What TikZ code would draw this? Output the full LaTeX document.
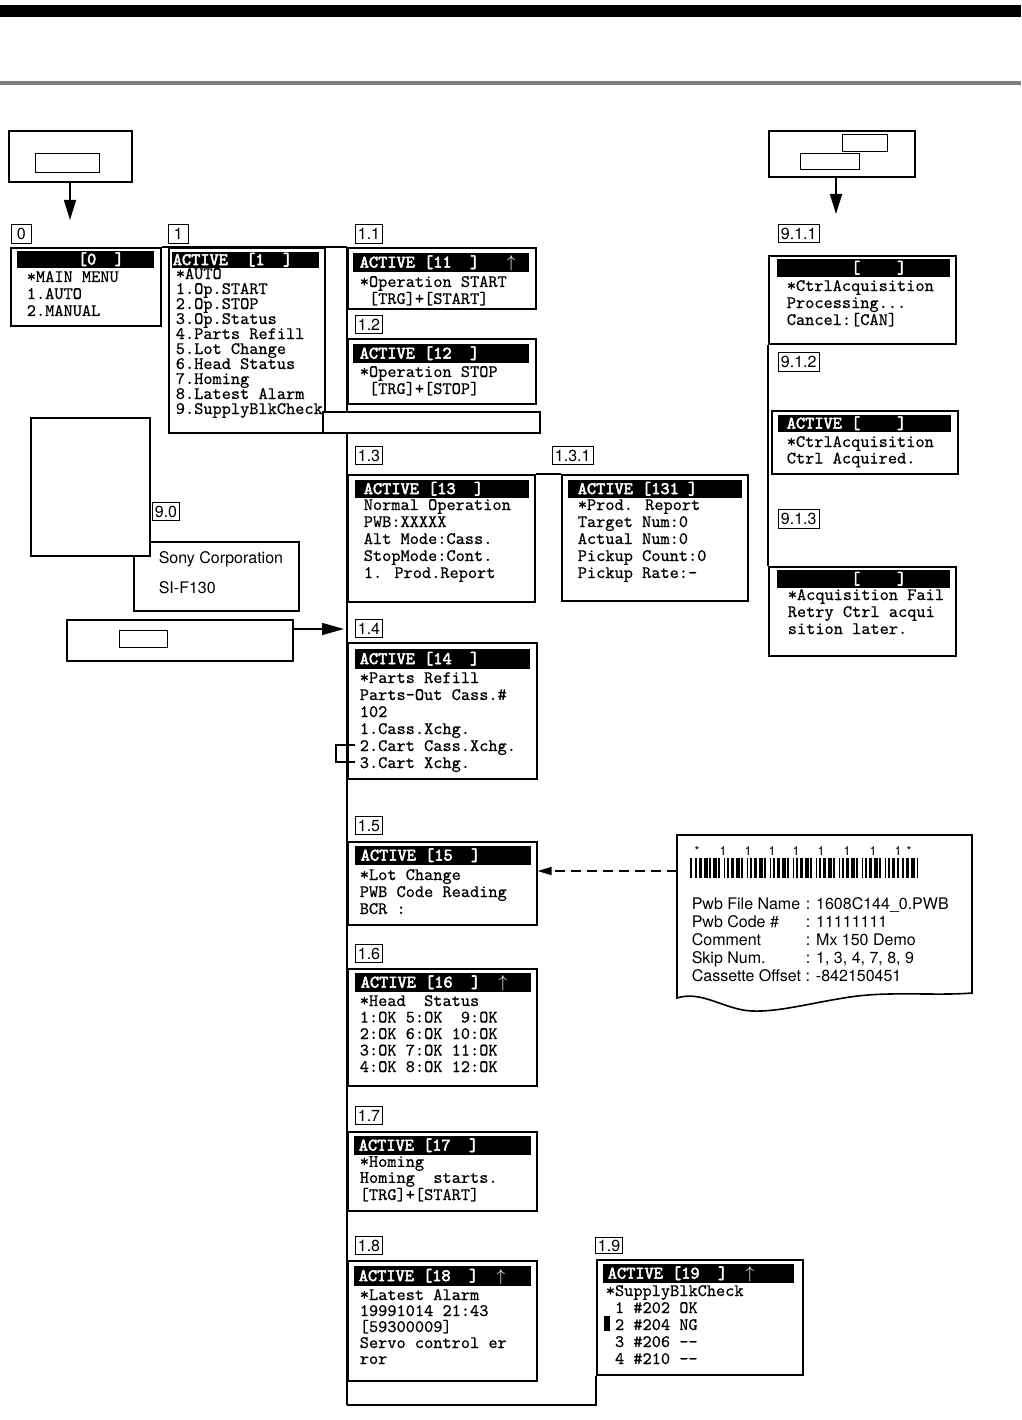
\documentclass[tikz,border=0pt]{standalone}
\usepackage{fontspec}
\setsansfont{TeX Gyre Heros}
\newfontfamily\lcdface{lmmono10-regular.otf}[FakeBold=0.5]
\newfontfamily\lcdbface{lmmono10-regular.otf}[FakeBold=3]
\usetikzlibrary{arrows.meta}
\newcommand{\lcd}[1]{\fontsize{17.5}{#1}\selectfont\lcdface}
\newcommand{\lcdb}{\fontsize{17.5}{18}\selectfont\lcdbface}
\newcommand{\tagf}{\fontsize{16}{18}\selectfont\sffamily}

\begin{document}
\begin{tikzpicture}[x=1pt, y=-1pt, line width=1.6pt,
    screen/.style={draw, fill=white, anchor=north west, inner sep=0pt},
    hdr/.style={fill=black, text=white, font=\lcdb, anchor=north west, inner xsep=6pt, inner ysep=0pt,
      minimum height=18pt, text height=10.5pt, text depth=0pt},
    lcd/.style={font=\lcd{17}, anchor=base west, align=left, inner sep=0pt},
    tagbox/.style={draw, line width=0.8pt, font=\tagf, anchor=north west, inner xsep=2.5pt, inner ysep=0pt,
      minimum height=19pt, minimum width=20pt, text height=11.5pt, text depth=0pt},
    slot/.style={draw, line width=0.8pt, anchor=north west, inner sep=0pt},
    keybox/.style={draw, fill=white, anchor=north west, inner sep=0pt},
    keyarrow/.style={-{Triangle[length=20pt, width=12pt]}}]
    \useasboundingbox (0,0) rectangle (1021,1420);
    % page bands
    \fill[black] (0,5) rectangle (1021,17);
    \fill[black!50] (0,81) rectangle (1021,85);

    % key boxes
    \node[keybox, minimum width=123pt, minimum height=51pt] (kbdL) at (8,130) {};
    \node[slot, minimum width=64pt, minimum height=19pt] (slotL) at (35,153) {};
    \coordinate (tipL) at (70,220);
    \draw[keyarrow] (kbdL.south -| tipL) -- (tipL);
    \node[keybox, minimum width=146pt, minimum height=46pt] (kbdR) at (768,130) {};
    \node[slot, minimum width=45pt, minimum height=17pt] (slotR1) at (842,134) {};
    \node[slot, minimum width=59pt, minimum height=16pt] (slotR2) at (800,153) {};
    \coordinate (tipR) at (836,214);
    \draw[keyarrow] (kbdR.south -| tipR) -- (tipR);

    % trunk
    \coordinate (trunkT) at (347,247);
    \coordinate (trunkB) at (347,1405);
    \draw (trunkT) -- (trunkB);

    % menu 0 and 1 (text nodes sit on their last baseline)
    \node[screen, minimum width=150pt, minimum height=78pt] (s0) at (10,247) {};
    \node[hdr, minimum height=17pt] (h0) at (16,250) {\makebox[125pt][l]{~~~~~~[0~~]}};
    \node[lcd] (t0) at (26,316) {*MAIN MENU\\1.AUTO\\2.MANUAL};
    \node[tagbox] (g0) at (11,224) {0};
    \draw (s0.north east) -- (trunkT);
    \node[screen, minimum width=156pt, minimum height=185pt] (s1) at (168,247) {};
    \node[hdr, minimum height=16pt, inner xsep=1pt] (h1) at (171,251) {\makebox[145pt][l]{ACTIVE~~[1~~]}};
    \node[lcd, font=\lcd{15}] (t1) at (175,414) {*AUTO\\1.Op.START\\2.Op.STOP\\3.Op.Status\\4.Parts Refill\\5.Lot Change\\6.Head Status\\7.Homing\\8.Latest Alarm\\9.SupplyBlkCheck};
    \node[tagbox] (g1) at (168,224) {1};

    % 1.1 and 1.2
    \node[screen, minimum width=188pt, minimum height=61pt] (s11) at (347,247) {};
    \node[hdr, minimum height=19pt, inner xsep=7pt] (h11) at (352,252) {\makebox[162pt][l]{ACTIVE [11~~]~~~$\uparrow$}};
    \node[lcd, font=\lcd{14}] (t11) at (359,304) {*Operation START\\~[TRG]+[START]};
    \node[tagbox] (g11) at (355,224) {1.1};
    \node[screen, minimum width=188pt, minimum height=65pt] (s12) at (347,338) {};
    \node[hdr, minimum height=19pt, inner xsep=7pt] (h12) at (352,343) {\makebox[162pt][l]{ACTIVE [12~~]}};
    \node[lcd, font=\lcd{14}] (t12) at (359,394) {*Operation STOP\\~[TRG]+[STOP]};
    \node[tagbox, minimum height=18pt] (g12) at (355,315) {1.2};
    \node[keybox, minimum width=217pt, minimum height=21pt] (wide) at (322,411) {};

    % 1.3 and 1.3.1
    \node[screen, minimum width=187pt, minimum height=127pt] (s13) at (347,474) {};
    \node[hdr, inner xsep=9pt] (h13) at (354,479) {\makebox[156pt][l]{ACTIVE [13~~]}};
    \node[lcd] (t13) at (363,578) {Normal Operation\\PWB:XXXXX\\Alt Mode:Cass.\\StopMode:Cont.\\1. Prod.Report};
    \node[tagbox, minimum height=18pt] (g13) at (355,446) {1.3};
    \node[screen, minimum width=186pt, minimum height=126pt] (s131) at (561,474) {};
    \node[hdr, inner xsep=10pt] (h131) at (567,479) {\makebox[154pt][l]{ACTIVE [131 ]}};
    \node[lcd] (t131) at (577,578) {*Prod. Report\\Target Num:0\\Actual Num:0\\Pickup Count:0\\Pickup Rate:-};
    \node[tagbox, minimum height=18pt] (g131) at (552,446) {1.3.1};
    \draw (s13.north east) -- (s131.north west);

    % 1.4
    \node[screen, minimum width=189pt, minimum height=136pt] (s14) at (347,642) {};
    \node[hdr, minimum height=20pt, inner xsep=5pt] (h14) at (354,648) {\makebox[165pt][l]{ACTIVE [14~~]}};
    \node[lcd] (t14) at (359,768) {*Parts Refill\\Parts-Out Cass.\#\\102\\1.Cass.Xchg.\\2.Cart Cass.Xchg.\\3.Cart Xchg.};
    \node[tagbox, minimum height=18pt] (g14) at (355,619) {1.4};
    \coordinate (brkA) at (355,745);
    \coordinate (brkB) at (355,762);
    \draw[line width=1.2pt] (brkA) -- ++(-19,0) |- (brkB);

    % 1.5 to 1.8
    \node[screen, minimum width=189pt, minimum height=83pt] (s15) at (347,841) {};
    \node[hdr, minimum height=19pt] (h15) at (354,845) {\makebox[164pt][l]{ACTIVE [15~~]}};
    \node[lcd] (t15) at (359,914) {*Lot Change\\PWB Code Reading\\BCR :};
    \node[tagbox, minimum height=18pt] (g15) at (355,816) {1.5};
    \node[screen, minimum width=189pt, minimum height=117pt] (s16) at (347,968) {};
    \node[hdr, minimum height=19pt] (h16) at (354,972) {\makebox[164pt][l]{ACTIVE [16~~]~~$\uparrow$}};
    \node[lcd, font=\lcd{16.5}] (t16) at (359,1072) {*Head~~Status\\1:OK 5:OK~~9:OK\\2:OK 6:OK 10:OK\\3:OK 7:OK 11:OK\\4:OK 8:OK 12:OK};
    \node[tagbox, minimum height=18pt] (g16) at (355,944) {1.6};
    \node[screen, minimum width=189pt, minimum height=79pt] (s17) at (347,1131) {};
    \node[hdr, minimum height=19pt, inner xsep=5pt] (h17) at (353,1135) {\makebox[167pt][l]{ACTIVE [17~~]}};
    \node[lcd, font=\lcd{16}] (t17) at (359,1200) {*Homing\\Homing~~starts.\\{}[TRG]+[START]};
    \node[tagbox, minimum height=18pt] (g17) at (355,1106) {1.7};
    \node[screen, minimum width=189pt, minimum height=120pt] (s18) at (347,1260) {};
    \node[hdr, minimum height=20pt, inner xsep=5pt] (h18) at (353,1265) {\makebox[167pt][l]{ACTIVE [18~~]~~$\uparrow$}};
    \node[lcd, font=\lcd{16}] (t18) at (359,1364) {*Latest Alarm\\19991014 21:43\\{}[59300009]\\Servo control er\\ror};
    \node[tagbox, minimum height=18pt] (g18) at (355,1236) {1.8};

    % 1.9
    \node[screen, minimum width=206pt, minimum height=115pt] (s19) at (596,1259) {};
    \node[hdr, minimum height=19pt, inner xsep=5pt] (h19) at (602,1263) {\makebox[181pt][l]{ACTIVE [19~~]~~$\uparrow$}};
    \node[lcd] (t19) at (605,1364) {*SupplyBlkCheck\\~1 \#202 OK\\~2 \#204 NG\\~3 \#206 -{}-\\~4 \#210 -{}-};
    \fill (604,1316) rectangle (610,1331);
    \node[tagbox, minimum height=16pt] (g19) at (595,1237) {1.9};
    \draw (trunkB) -- (trunkB -| s19.south west) -- (s19.south west);

    % 9.1.x
    \node[screen, minimum width=187pt, minimum height=88pt] (s911) at (768,255) {};
    \node[hdr, inner xsep=10pt] (h911) at (776,258) {\makebox[153pt][l]{~~~~~~~[~~~~]}};
    \node[lcd] (t911) at (786,325) {*CtrlAcquisition\\Processing...\\Cancel:[CAN]};
    \node[tagbox, minimum height=18pt] (g911) at (778,224) {9.1.1};
    \node[screen, minimum width=187pt, minimum height=89pt] (s913) at (768,566) {};
    \draw (s911.south west) -- (s913.north west);
    \node[screen, minimum width=186pt, minimum height=63pt] (s912) at (771,410) {};
    \node[hdr, minimum height=17pt, inner xsep=9pt] (h912) at (777,414) {\makebox[155pt][l]{ACTIVE [~~~~]}};
    \node[lcd, font=\lcd{16.5}] (t912) at (786,463.5) {*CtrlAcquisition\\Ctrl Acquired.};
    \node[tagbox] (g912) at (778,352) {9.1.2};
    \node[hdr, inner xsep=10pt] (h913) at (776,569) {\makebox[153pt][l]{~~~~~~~[~~~~]}};
    \node[lcd] (t913) at (787,634) {*Acquisition Fail\\Retry Ctrl acqui\\sition later.};
    \node[tagbox] (g913) at (778,509) {9.1.3};

    % 9.0 and remote box
    \node[keybox, minimum width=165pt, minimum height=69pt] (sony) at (133,541) {};
    \node[font=\tagf, anchor=base west, align=left, inner sep=0pt] (sonytxt) at (158,593) {Sony Corporation\\[12pt]SI-F130};
    \node[keybox, minimum width=119pt, minimum height=138pt] (blank) at (30,417) {};
    \node[tagbox, minimum height=18pt] (g90) at (152,502) {9.0};
    \node[keybox, minimum width=226pt, minimum height=41pt] (kbdB) at (66,619) {};
    \node[slot, minimum width=48pt, minimum height=17pt] (slotB) at (119,630) {};
    \coordinate (a14) at (292,629);
    \draw[-{Triangle[length=22pt, width=12pt]}, shorten >=3pt] (a14) -- (a14 -| trunkT);

    % bar code sheet
    \draw[fill=white] (677,998) -- (677,835) -- (972,835) -- (972,993)
      .. controls (935,996) and (890,991) .. (850,997)
      .. controls (810,1003) and (780,1012) .. (752,1011)
      .. controls (725,1010) and (702,990) .. (677,998) -- cycle;
    \foreach \k in {0,...,9}{
      \ifnum\k=0 \def\bl{0/1,3/1,5/2,8/2,11/1}\else\ifnum\k=9 \def\bl{0/1,3/1,5/2,8/2,11/1}\else\def\bl{0/2,3/1,6/1,8/1,10/2}\fi\fi
      \foreach \s/\w in \bl {\fill ({690+1.77*(13*\k+\s)},858) rectangle ++({1.77*\w},20);}
    }
    \foreach \x/\c in {697/*,723/1,748/1,772/1,796/1,821/1,847/1,873/1,898/1,909/*}
      \node[font=\fontsize{12.5}{14}\selectfont\sffamily, anchor=base, inner sep=0pt] (bc\x) at (\x,855) {\c};
    \foreach \y/\a/\b in {909/{Pwb File Name}/{1608C144\_0.PWB}, 927/{Pwb Code \#}/{11111111},
        945/{Comment}/{Mx 150 Demo}, 963/{Skip Num.}/{1, 3, 4, 7, 8, 9}}{
      \node[font=\tagf, anchor=base west, inner sep=0pt] (bl\y) at (691,\y) {\a};
      \node[font=\tagf, anchor=base west, inner sep=0pt] (bv\y) at (805,\y) {: \b};
    }
    \node[font=\tagf, anchor=base west, inner sep=0pt] (bl981) at (691,981) {Cassette Offset : -842150451};
    \coordinate (scanL) at (677,871);
    \draw[dash pattern=on 10pt off 6pt, -{Triangle[length=14pt, width=8pt]}] (scanL) -- (scanL -| s15.east);
\end{tikzpicture}
\end{document}
